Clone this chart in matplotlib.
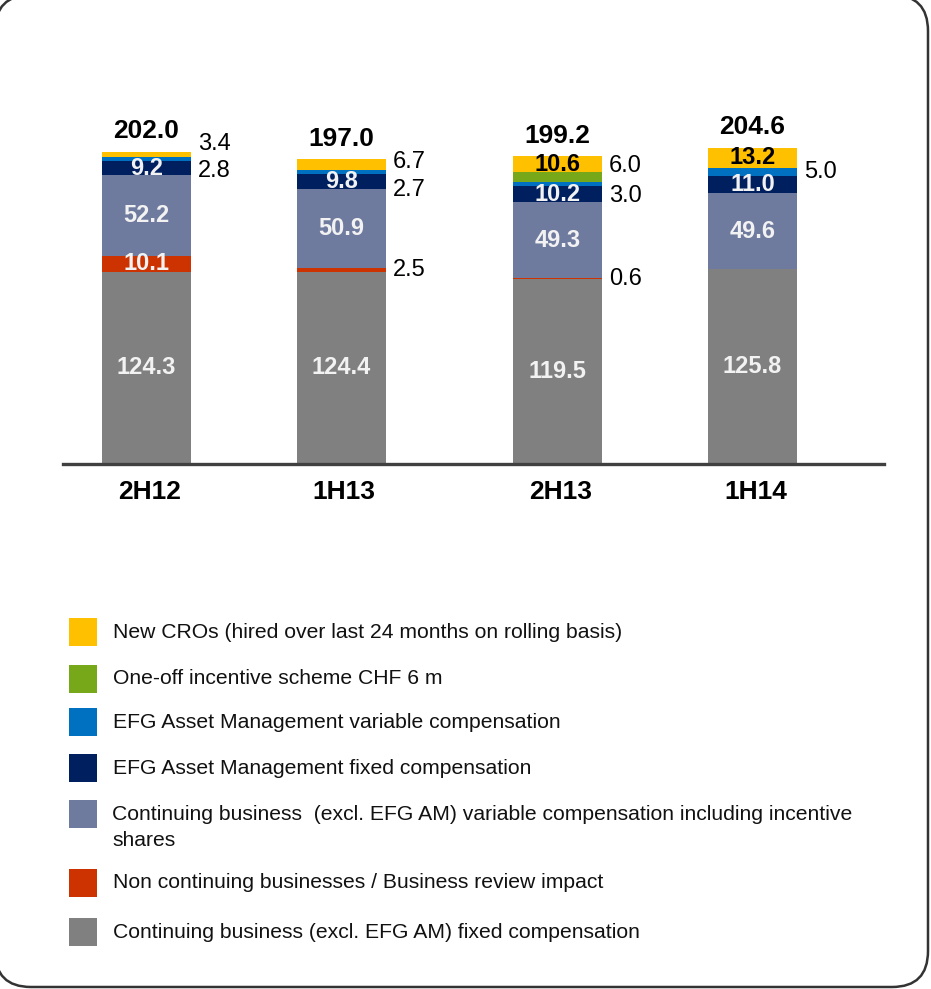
import numpy as np
import matplotlib.pyplot as plt
from matplotlib.patches import FancyBboxPatch, Rectangle

plt.rcParams['font.family'] = ['Liberation Sans', 'DejaVu Sans']

periods = ['2H12', '1H13', '2H13', '1H14']
totals = [202.0, 197.0, 199.2, 204.6]

# stacked bottom -> top, CHF m
cont_fixed = [124.3, 124.4, 119.5, 125.8]
non_cont = [10.1, 2.5, 0.6, 0.0]
cont_var = [52.2, 50.9, 49.3, 49.6]
am_fixed = [9.2, 9.8, 10.2, 11.0]
am_var = [2.8, 2.7, 3.0, 5.0]
one_off = [0.0, 0.0, 6.0, 0.0]
new_cros = [3.4, 6.7, 10.6, 13.2]

stack = [cont_fixed, non_cont, cont_var, am_fixed, am_var, one_off, new_cros]
colors = ['#808080', '#CC3300', '#6F7A9F', '#001F5F', '#0070C0', '#77A81A', '#FFC000']

legend_names = [
    'New CROs (hired over last 24 months on rolling basis)',
    'One-off incentive scheme CHF 6 m',
    'EFG Asset Management variable compensation',
    'EFG Asset Management fixed compensation',
    'Continuing business  (excl. EFG AM) variable compensation including incentive\nshares',
    'Non continuing businesses / Business review impact',
    'Continuing business (excl. EFG AM) fixed compensation',
]
legend_colors = colors[::-1]

W, H = 931, 989
fig = plt.figure(figsize=(W / 100, H / 100), dpi=100)

# background axes in pixel coords: frame + legend
bg = fig.add_axes([0, 0, 1, 1])
bg.set_xlim(0, W)
bg.set_ylim(H, 0)
bg.axis('off')
frame = FancyBboxPatch((-5, -5), 933, 992, boxstyle='round,pad=0,rounding_size=36',
                       fc='white', ec='#333333', lw=1.8, clip_on=False)
bg.add_patch(frame)

leg_y = [632, 679, 722, 768, 814, 883, 932]
for i, (name, c) in enumerate(zip(legend_names, legend_colors)):
    y = leg_y[i]
    bg.add_patch(Rectangle((69, y - 14), 28, 28, fc=c, ec='none'))
    if '\n' in name:
        bg.text(112, y - 9, name, fontsize=15.2, va='top', ha='left',
                linespacing=1.45, color='#111111')
    else:
        bg.text(113, y, name, fontsize=15.2, va='center', ha='left', color='#111111')

# bar axes: bottom edge is the baseline
ax = fig.add_axes([63 / W, 1 - 464 / H, 821 / W, 464 / H])
ax.patch.set_alpha(0)
xpos = np.array([0, 1, 2.108, 3.108])
width = 0.456
ax.set_xlim(-0.428, 3.782)
ax.set_ylim(0, 300)
for s in ['top', 'right', 'left']:
    ax.spines[s].set_visible(False)
ax.spines['bottom'].set_linewidth(2.4)
ax.spines['bottom'].set_color('#404040')
ax.set_xticks([])
ax.set_yticks([])

# vertical nudges (points) for small labels beside the bars
nudge = {(6, 0): 7, (4, 0): -9, (6, 1): 2, (4, 1): -13, (5, 2): 8, (4, 2): -9}

bottom = np.zeros(len(periods))
for k, vals in enumerate(stack):
    vals = np.array(vals)
    ax.bar(xpos, vals, width, bottom=bottom, color=colors[k], linewidth=0)
    for j, v in enumerate(vals):
        if v <= 0:
            continue
        mid = bottom[j] + v / 2
        if v >= 9:
            tc = 'black' if colors[k] == '#FFC000' else '#F2F2F2'
            ax.text(xpos[j], mid, f'{v:.1f}', ha='center', va='center',
                    fontsize=17, fontweight='bold', color=tc)
        else:
            ax.annotate(f'{v:.1f}', (xpos[j] + width / 2, mid),
                        xytext=(5, nudge.get((k, j), 0)), textcoords='offset points',
                        ha='left', va='center', fontsize=17, color='black')
    bottom += vals

for j, t in enumerate(totals):
    ax.annotate(f'{t:.1f}', (xpos[j], t), xytext=(0, 6), textcoords='offset points',
                ha='center', va='bottom', fontsize=19, fontweight='bold')
    ax.annotate(periods[j], (xpos[j], 0), xycoords=('data', 'axes fraction'),
                xytext=(2, -20), textcoords='offset points', ha='center', va='center',
                fontsize=19, fontweight='bold', annotation_clip=False)

fig.savefig('out.png', dpi=100)
